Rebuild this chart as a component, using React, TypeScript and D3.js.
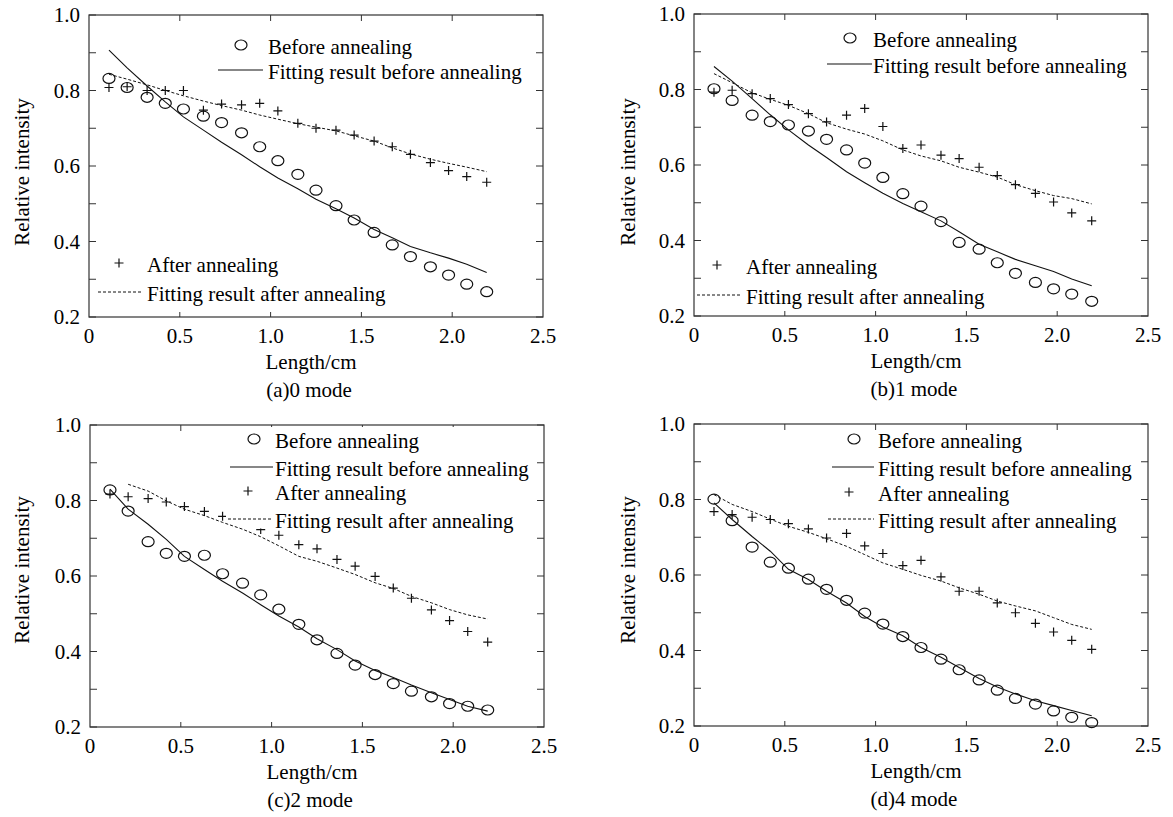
import React from 'react';
import * as d3 from 'd3';

// lengths (cm) shared by all four modes
const lengths = [0.11, 0.21, 0.32, 0.42, 0.52, 0.63, 0.73, 0.84, 0.94, 1.04, 1.15, 1.25, 1.36, 1.46, 1.57, 1.67, 1.77, 1.88, 1.98, 2.08, 2.19];

const mode0Before = [0.832, 0.808, 0.782, 0.766, 0.751, 0.732, 0.715, 0.688, 0.651, 0.614, 0.578, 0.536, 0.495, 0.457, 0.424, 0.391, 0.36, 0.333, 0.311, 0.287, 0.267];
const mode0After = [0.808, 0.81, 0.8, 0.8, 0.8, 0.748, 0.764, 0.762, 0.766, 0.746, 0.713, 0.7, 0.695, 0.682, 0.666, 0.651, 0.631, 0.609, 0.588, 0.572, 0.557];
const mode0FitBefore = [0.907, 0.86, 0.812, 0.77, 0.73, 0.695, 0.663, 0.63, 0.598, 0.568, 0.54, 0.512, 0.487, 0.462, 0.432, 0.41, 0.387, 0.37, 0.356, 0.34, 0.318];
const mode0FitAfter = [0.843, 0.83, 0.815, 0.8, 0.786, 0.772, 0.76, 0.748, 0.735, 0.724, 0.712, 0.703, 0.693, 0.68, 0.666, 0.648, 0.632, 0.618, 0.607, 0.597, 0.585];

const mode1Before = [0.802, 0.771, 0.732, 0.715, 0.706, 0.69, 0.668, 0.64, 0.605, 0.567, 0.524, 0.491, 0.45, 0.395, 0.377, 0.341, 0.313, 0.289, 0.272, 0.258, 0.239];
const mode1After = [0.793, 0.798, 0.789, 0.776, 0.76, 0.736, 0.714, 0.732, 0.75, 0.702, 0.644, 0.653, 0.626, 0.617, 0.594, 0.572, 0.548, 0.525, 0.502, 0.473, 0.452];
const mode1FitBefore = [0.861, 0.822, 0.776, 0.733, 0.693, 0.653, 0.62, 0.582, 0.553, 0.525, 0.498, 0.476, 0.452, 0.423, 0.39, 0.37, 0.35, 0.333, 0.318, 0.298, 0.28];
const mode1FitAfter = [0.842, 0.818, 0.791, 0.774, 0.758, 0.736, 0.712, 0.695, 0.682, 0.664, 0.64, 0.624, 0.611, 0.594, 0.581, 0.568, 0.548, 0.532, 0.519, 0.511, 0.497];

const mode2Before = [0.828, 0.772, 0.691, 0.66, 0.652, 0.655, 0.606, 0.581, 0.55, 0.512, 0.472, 0.431, 0.395, 0.364, 0.339, 0.315, 0.295, 0.28, 0.262, 0.255, 0.245];
const mode2After = [0.817, 0.81, 0.805, 0.796, 0.784, 0.771, 0.758, 0.74, 0.723, 0.708, 0.683, 0.672, 0.644, 0.626, 0.599, 0.568, 0.541, 0.51, 0.482, 0.453, 0.425];
const mode2FitBefore = [0.83, 0.777, 0.737, 0.697, 0.652, 0.617, 0.586, 0.555, 0.524, 0.494, 0.465, 0.434, 0.405, 0.375, 0.35, 0.331, 0.311, 0.291, 0.273, 0.255, 0.242];
const mode2FitAfter = [null, 0.843, 0.825, 0.799, 0.777, 0.76, 0.742, 0.724, 0.704, 0.68, 0.652, 0.639, 0.621, 0.604, 0.582, 0.567, 0.546, 0.529, 0.511, 0.497, 0.486];

const mode4Before = [0.801, 0.744, 0.674, 0.634, 0.618, 0.589, 0.562, 0.533, 0.499, 0.47, 0.437, 0.408, 0.377, 0.349, 0.322, 0.295, 0.273, 0.258, 0.24, 0.223, 0.209];
const mode4After = [0.768, 0.76, 0.753, 0.747, 0.736, 0.722, 0.698, 0.71, 0.677, 0.657, 0.625, 0.639, 0.595, 0.557, 0.557, 0.526, 0.5, 0.472, 0.449, 0.427, 0.403];
const mode4FitBefore = [0.791, 0.747, 0.702, 0.663, 0.615, 0.588, 0.557, 0.526, 0.49, 0.462, 0.439, 0.408, 0.382, 0.355, 0.326, 0.303, 0.285, 0.267, 0.254, 0.241, 0.227];
const mode4FitAfter = [0.813, 0.787, 0.768, 0.748, 0.729, 0.713, 0.696, 0.676, 0.654, 0.632, 0.615, 0.599, 0.584, 0.566, 0.549, 0.531, 0.518, 0.505, 0.487, 0.469, 0.456];

const yTicks = [0.2, 0.4, 0.6, 0.8, 1.0];
const yMinorTicks = [0.3, 0.5, 0.7, 0.9];
const xTicks = [0, 0.5, 1.0, 1.5, 2.0, 2.5];

const legendLabels = ['Before annealing', 'Fitting result before annealing', 'After annealing', 'Fitting result after annealing'];

const FONT = '"Liberation Serif", "Times New Roman", serif';
const FS = 21;
const W = 454;
const H = 302;

const panels = [
  {
    caption: '(a)0 mode', left: 89, top: 15, labelY: 172,
    before: mode0Before, after: mode0After, fitBefore: mode0FitBefore, fitAfter: mode0FitAfter,
    legend: [
      { x: 152, y: 30 }, { x: 129, x1: 174, y: 55 }, { x: 30, y: 248 }, { x: 9, x1: 53, y: 277 },
    ],
    textX: [179, 179, 58, 58],
    box: null as null | { x: number; y: number; w: number; h: number },
  },
  {
    caption: '(b)1 mode', left: 694, top: 14, labelY: 172,
    before: mode1Before, after: mode1After, fitBefore: mode1FitBefore, fitAfter: mode1FitAfter,
    legend: [
      { x: 156, y: 24 }, { x: 133, x1: 178, y: 50 }, { x: 23, y: 251 }, { x: 3, x1: 47, y: 281 },
    ],
    textX: [179, 179, 52, 52],
    box: null,
  },
  {
    caption: '(c)2 mode', left: 90, top: 425, labelY: 570,
    before: mode2Before, after: mode2After, fitBefore: mode2FitBefore, fitAfter: mode2FitAfter,
    legend: [
      { x: 164, y: 14 }, { x: 140, x1: 183, y: 42 }, { x: 158, y: 66 }, { x: 138, x1: 183, y: 94 },
    ],
    textX: [185, 185, 185, 185],
    // the legend box of this panel hides a couple of points
    box: { x: 136, y: 2, w: 300, h: 101.5 },
  },
  {
    caption: '(d)4 mode', left: 694, top: 424, labelY: 570,
    before: mode4Before, after: mode4After, fitBefore: mode4FitBefore, fitAfter: mode4FitAfter,
    legend: [
      { x: 160, y: 15 }, { x: 138, x1: 180, y: 43 }, { x: 155, y: 68 }, { x: 134, x1: 180, y: 95 },
    ],
    textX: [184, 184, 184, 184],
    box: null,
  },
];

const plusPath = 'M-4.5,0H4.5M0,-4.5V4.5';

function Panel({ p }: { p: typeof panels[number] }) {
  const x = d3.scaleLinear().domain([0, 2.5]).range([0, W]);
  const y = d3.scaleLinear().domain([0.2, 1.0]).range([H, 0]);
  const line = d3
    .line<number | null>()
    .defined((d) => d != null)
    .x((_, i) => x(lengths[i]))
    .y((d) => y(d as number));

  const stroke = '#111';

  return (
    <g transform={`translate(${p.left},${p.top})`} fontFamily={FONT} fontSize={FS} fill="#000">
      {/* frame */}
      <rect x={0} y={0} width={W} height={H} fill="none" stroke="#333" strokeWidth={1.2} />
      {/* y ticks, inward on both sides */}
      {[...yTicks, ...yMinorTicks].map((t) => (
        <g key={'y' + t}>
          <line x1={0} x2={7} y1={y(t)} y2={y(t)} stroke="#333" />
          <line x1={W - 7} x2={W} y1={y(t)} y2={y(t)} stroke="#333" />
        </g>
      ))}
      {yTicks.map((t) => (
        <text key={'yl' + t} x={-9} y={y(t)} dy="0.35em" textAnchor="end">
          {d3.format('.1f')(t)}
        </text>
      ))}
      {/* x ticks */}
      {xTicks.slice(1, -1).map((t) => (
        <g key={'x' + t}>
          <line x1={x(t)} x2={x(t)} y1={0} y2={6} stroke="#333" />
          <line x1={x(t)} x2={x(t)} y1={H - 5} y2={H} stroke="#333" />
        </g>
      ))}
      {xTicks.map((t) => (
        <text key={'xl' + t} x={x(t)} y={H + 26} textAnchor="middle">
          {t === 0 ? '0' : d3.format('.1f')(t)}
        </text>
      ))}
      <text x={W / 2 - 5} y={H + 52} textAnchor="middle">Length/cm</text>
      <text x={W / 2 - 7} y={H + 80} textAnchor="middle">{p.caption}</text>
      <text
        transform={`translate(${-p.left + 22 + (p.left > 600 ? 606 : 0)},${p.labelY - p.top}) rotate(-90)`}
        dy="0.35em"
        textAnchor="middle"
      >
        Relative intensity
      </text>

      {/* measured points */}
      {p.before.map((v, i) => (
        <ellipse key={'b' + i} cx={x(lengths[i])} cy={y(v)} rx={6} ry={5} fill="none" stroke={stroke} strokeWidth={1.2} />
      ))}
      {p.after.map((v, i) => (
        <path key={'a' + i} transform={`translate(${x(lengths[i])},${y(v)})`} d={plusPath} stroke={stroke} strokeWidth={1.2} />
      ))}

      {p.box && <rect x={p.box.x} y={p.box.y} width={p.box.w} height={p.box.h} fill="#fff" />}

      {/* fitted curves */}
      <path d={line(p.fitBefore) || ''} fill="none" stroke={stroke} strokeWidth={1.1} />
      <path d={line(p.fitAfter) || ''} fill="none" stroke={stroke} strokeWidth={1} strokeDasharray="3,2" />

      {/* legend */}
      <ellipse cx={p.legend[0].x} cy={p.legend[0].y} rx={6} ry={5} fill="none" stroke={stroke} strokeWidth={1.2} />
      <line x1={p.legend[1].x} x2={p.legend[1].x1} y1={p.legend[1].y} y2={p.legend[1].y} stroke={stroke} strokeWidth={1.1} />
      <path transform={`translate(${p.legend[2].x},${p.legend[2].y})`} d={plusPath} stroke={stroke} strokeWidth={1.2} />
      <line x1={p.legend[3].x} x2={p.legend[3].x1} y1={p.legend[3].y} y2={p.legend[3].y} stroke={stroke} strokeDasharray="3,2" />
      {legendLabels.map((lab, i) => (
        <text key={lab} x={p.textX[i]} y={p.legend[i].y + 2} dy="0.35em">
          {lab}
        </text>
      ))}
    </g>
  );
}

export default function App() {
  return (
    <svg width={1173} height={817} style={{ position: 'absolute', left: 0, top: 0, background: '#fff' }}>
      {panels.map((p) => (
        <Panel key={p.caption} p={p} />
      ))}
    </svg>
  );
}
